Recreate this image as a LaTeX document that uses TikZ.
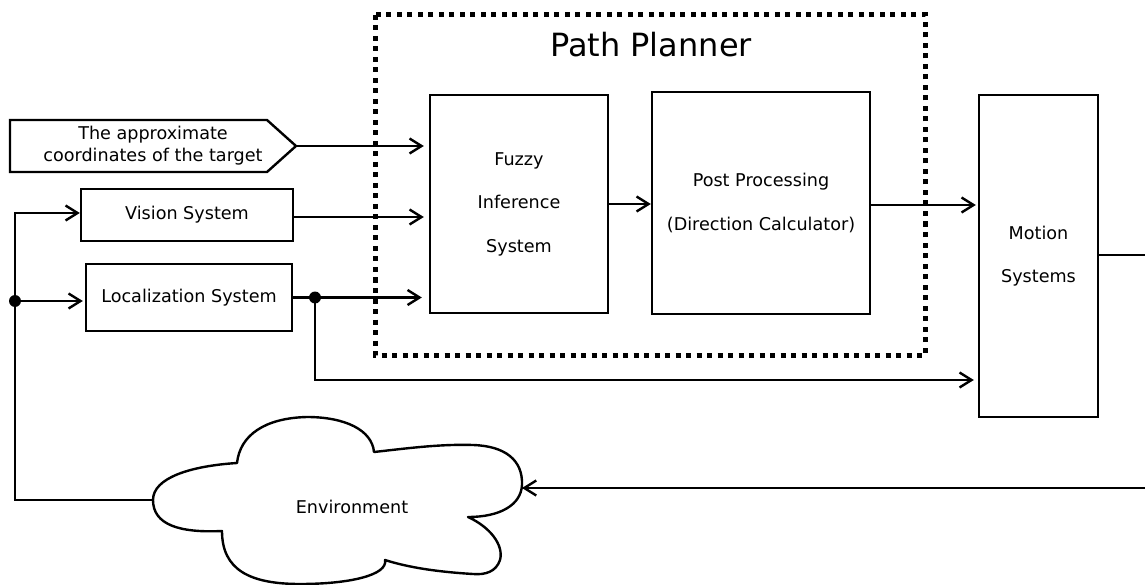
\documentclass[tikz,border=0pt]{standalone}
\usepackage{fontspec}
\setmainfont{DejaVu Sans}
\usetikzlibrary{arrows.meta,calc}

\tikzset{
  box/.style={draw, line width=2.4pt, inner sep=0pt, align=center,
    font=\fontsize{17.6}{43.5}\selectfont},
  conn/.style={line width=2.4pt, -{Straight Barb[length=12pt,width=15pt]}},
  wire/.style={line width=2.4pt},
  junction/.style={circle, fill, inner sep=0pt, minimum size=12pt},
  label/.style={inner sep=0pt, align=center, font=\fontsize{17.6}{22}\selectfont},
}

\begin{document}
\begin{tikzpicture}[x=1pt, y=-1pt]
\useasboundingbox (0,0) rectangle (1145,585);

% Path planner group
\draw[line width=5pt, dash pattern=on 5pt off 5.5pt] (375,15) rectangle (925,355);
\node[anchor=base, inner sep=0pt, font=\fontsize{32}{32}\selectfont] (title) at (651,57) {Path Planner};

% Main blocks
\node[box, minimum width=178pt, minimum height=218pt] (fuzzy) at (519,204) {Fuzzy\\Inference\\System};
\node[box, minimum width=218pt, minimum height=222pt] (post) at (761,203) {Post Processing\\(Direction Calculator)};
\node[box, minimum width=119pt, minimum height=322pt] (motion) at (1038.5,256) {Motion\\Systems};
\node[box, minimum width=212pt, minimum height=52pt] (vision) at (187,215) {Vision System};
\node[box, minimum width=206pt, minimum height=67pt] (loc) at (189,297.5) {Localization System};

% Target input (pointed block)
\draw[line width=2.4pt, line join=miter] (10,120) -- (267,120) -- (296,146) -- (267,172) -- (10,172) -- cycle;
\node[label] (target) at (153,146) {The approximate\\coordinates of the target};
\coordinate (targettip) at (296,146);

% Environment cloud
\draw[line width=2.4pt, line join=round]
  (222,531) .. controls (180,533) and (153,525) .. (153,500)
            .. controls (153,478) and (190,466) .. (237,463)
            .. controls (240,435) and (265,418) .. (307,417)
            .. controls (345,417) and (372,430) .. (374,452)
            .. controls (410,448) and (440,444) .. (473,445)
            .. controls (505,446) and (523,460) .. (522,485)
            .. controls (521,505) and (500,517) .. (468,517)
            .. controls (490,527) and (504,545) .. (500,560)
            .. controls (496,572) and (485,575) .. (473,574)
            .. controls (440,572) and (410,568) .. (385,560)
            .. controls (388,575) and (350,584) .. (300,584)
            .. controls (250,584) and (222,570) .. (222,531) -- cycle;
\node[inner sep=0pt, font=\fontsize{17.6}{17.6}\selectfont] (env) at (352,507) {Environment};
\coordinate (envw) at (153,500);
\coordinate (enve) at (522,488);

% Routing points
\coordinate (rail) at (15,500);
\coordinate (lowrail) at (0,380);
\coordinate (retin) at (1150,488);

% Junctions
\node[junction] (ldot) at (15,301) {};
\node[junction] (rdot) at (315,297.5) {};

% Inputs to the fuzzy system
\draw[conn, shorten >=5pt] (targettip) -- (targettip -| fuzzy.west);
\draw[conn, shorten >=5pt] ([yshift=-2pt]vision.east) -- ([yshift=-2pt]vision.east -| fuzzy.west);
\draw[wire] (loc.east) -- (rdot.center);
\draw[conn, shorten >=7pt] (rdot.center) -- (rdot.center -| fuzzy.west);

% Planner chain
\draw[conn] (fuzzy.east) -- (fuzzy.east -| post.west);
\draw[conn, shorten >=2pt] ([yshift=-2pt]post.east) -- ([yshift=-2pt]post.east -| motion.west);
\draw[conn, shorten >=4pt] (rdot.center) |- (motion.west |- lowrail);

% Motion output and environment feedback
\draw[wire] ([yshift=1pt]motion.east) -- ++(50,0);
\draw[conn] (retin) -- (enve);
\draw[conn] (envw) -- (rail) |- ([yshift=2pt]vision.west);
\draw[conn, shorten >=2pt] (ldot.center) -- (ldot.center -| loc.west);

\end{tikzpicture}
\end{document}
